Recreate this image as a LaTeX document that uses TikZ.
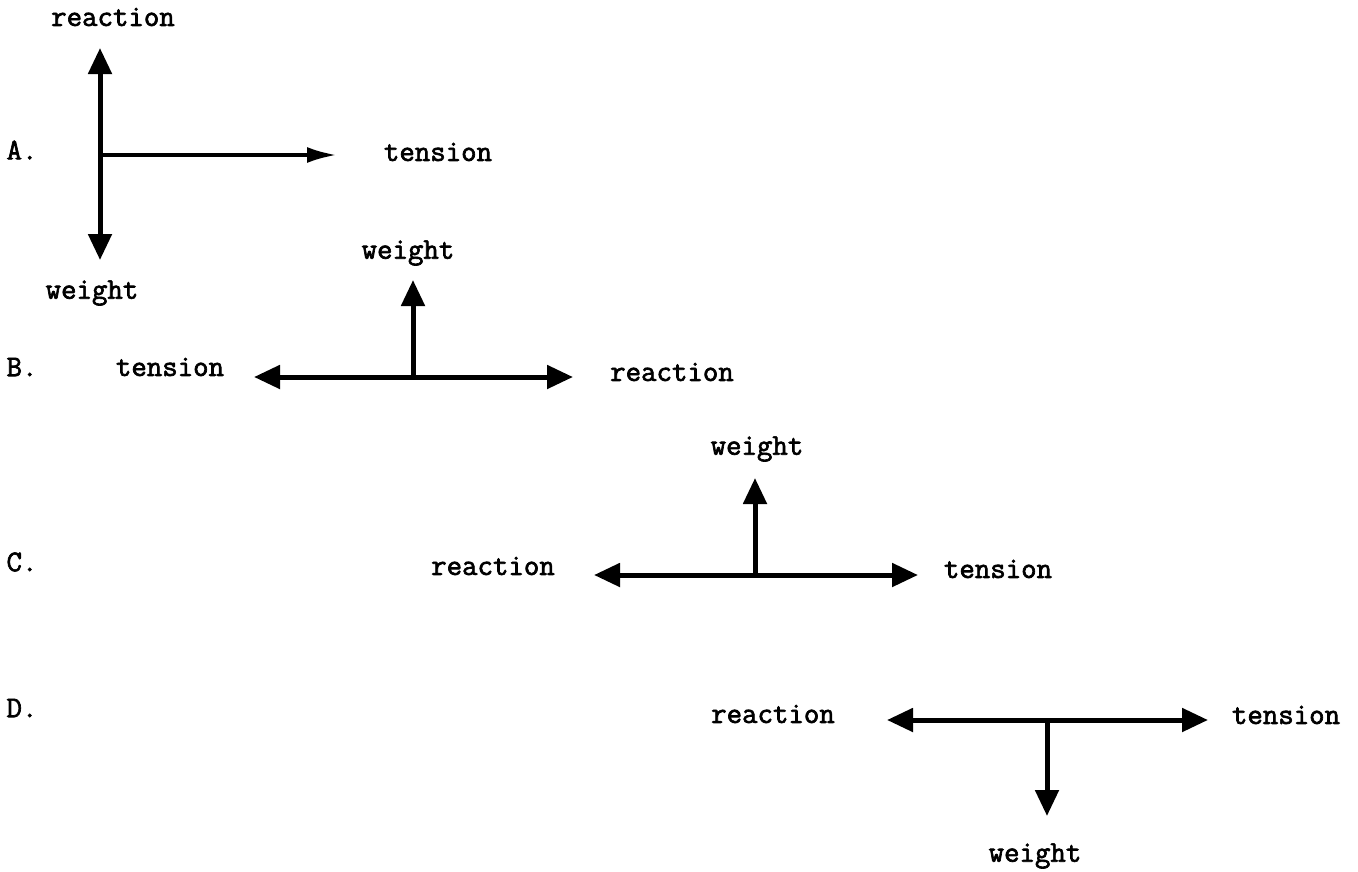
\documentclass[tikz,border=0pt]{standalone}
\usepackage{fontspec}
\newfontfamily\typewriter{Latin Modern Mono}[FakeBold=2.2]
\usetikzlibrary{arrows.meta}
\begin{document}
\begin{tikzpicture}[x=1pt,y=-1pt,
  lbl/.style={font=\typewriter\fontsize{30}{32}\selectfont, inner sep=0pt},
  force/.style={line width=5pt, -{Triangle[length=26pt,width=23pt]}},
  thinforce/.style={line width=4pt, -{Latex[length=30pt,width=16pt]}}]
\useasboundingbox (0,0) rectangle (1358,871);

% ---- A ----
\node[lbl] (Alab) at (22,150) {A.};
\coordinate (Ao) at (100,155);
\coordinate (Aup) at (100,48);
\coordinate (Adn) at (100,260);
\coordinate (Art) at (337,155);
\node[lbl] (Areac) at (113,17) {reaction};
\node[lbl] (Aten) at (438,152) {tension};
\node[lbl] (Awei) at (92,293) {weight};
\draw[force] (Ao) -- (Aup);
\draw[force] (Ao) -- (Adn);
\draw[thinforce] (Ao) -- (Art);

% ---- B ----
\node[lbl] (Blab) at (22,367) {B.};
\coordinate (Bo) at (413,377);
\coordinate (Blt) at (254,377);
\coordinate (Brt) at (573,377);
\coordinate (Bup) at (413,280);
\node[lbl] (Bten) at (170,367) {tension};
\node[lbl] (Breac) at (672,372) {reaction};
\node[lbl] (Bwei) at (408,253) {weight};
\draw[force] (Bo) -- (Blt);
\draw[force] (Bo) -- (Brt);
\draw[force] (Bo) -- (Bup);

% ---- C ----
\node[lbl] (Clab) at (22,562) {C.};
\coordinate (Co) at (755,575);
\coordinate (Clt) at (594,575);
\coordinate (Crt) at (918,575);
\coordinate (Cup) at (755,478);
\node[lbl] (Creac) at (493,566) {reaction};
\node[lbl] (Cten) at (998,569) {tension};
\node[lbl] (Cwei) at (757,449) {weight};
\draw[force] (Co) -- (Clt);
\draw[force] (Co) -- (Crt);
\draw[force] (Co) -- (Cup);

% ---- D ----
\node[lbl] (Dlab) at (22,708) {D.};
\coordinate (Do) at (1047,720);
\coordinate (Dlt) at (887,720);
\coordinate (Drt) at (1208,720);
\coordinate (Ddn) at (1047,816);
\node[lbl] (Dreac) at (773,714) {reaction};
\node[lbl] (Dten) at (1286,715) {tension};
\node[lbl] (Dwei) at (1035,856) {weight};
\draw[force] (Do) -- (Dlt);
\draw[force] (Do) -- (Drt);
\draw[force] (Do) -- (Ddn);
\end{tikzpicture}
\end{document}
